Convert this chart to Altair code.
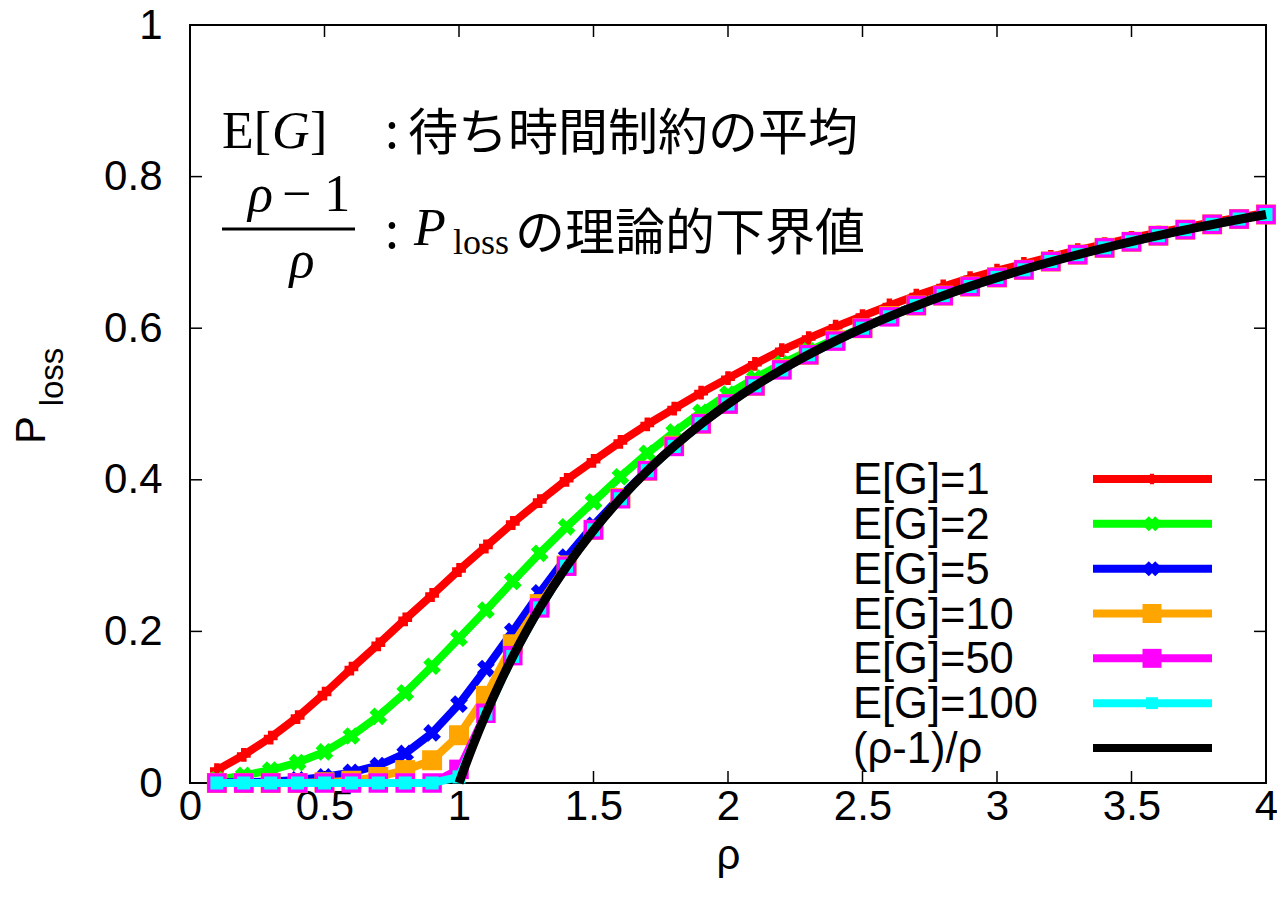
import altair as alt
import pandas as pd

# ---------------- data ----------------
rho = [0.1, 0.2, 0.3, 0.4, 0.5, 0.6, 0.7, 0.8, 0.9, 1.0,
       1.1, 1.2, 1.3, 1.4, 1.5, 1.6, 1.7, 1.8, 1.9, 2.0,
       2.1, 2.2, 2.3, 2.4, 2.5, 2.6, 2.7, 2.8, 2.9, 3.0,
       3.1, 3.2, 3.3, 3.4, 3.5, 3.6, 3.7, 3.8, 3.9, 4.0]

p_g1 = [0.017, 0.037, 0.060, 0.087, 0.118, 0.151, 0.183, 0.216, 0.248, 0.281,
        0.312, 0.343, 0.372, 0.400, 0.425, 0.450, 0.473, 0.494, 0.515, 0.534,
        0.553, 0.571, 0.587, 0.602, 0.616, 0.630, 0.643, 0.655, 0.666, 0.676,
        0.685, 0.694, 0.703, 0.711, 0.719, 0.726, 0.733, 0.740, 0.746, 0.752]

p_g2 = [0.004, 0.010, 0.017, 0.027, 0.041, 0.062, 0.088, 0.119, 0.154, 0.191,
        0.228, 0.266, 0.303, 0.338, 0.371, 0.404, 0.435, 0.463, 0.489, 0.513,
        0.534, 0.553, 0.570, 0.586, 0.601, 0.616, 0.631, 0.644, 0.656, 0.667,
        0.678, 0.688, 0.697, 0.706, 0.715, 0.723, 0.730, 0.737, 0.744, 0.750]

p_g5 = [0.001, 0.001, 0.002, 0.004, 0.008, 0.014, 0.023, 0.039, 0.066, 0.104,
        0.151, 0.200, 0.251, 0.298, 0.340, 0.378, 0.413, 0.445, 0.474, 0.501,
        0.524, 0.546, 0.566, 0.584, 0.601, 0.616, 0.631, 0.644, 0.656, 0.667,
        0.678, 0.688, 0.697, 0.706, 0.715, 0.723, 0.730, 0.737, 0.744, 0.750]

p_g10 = [0.0, 0.0, 0.0, 0.0, 0.001, 0.003, 0.008, 0.017, 0.030, 0.063,
         0.115, 0.183, 0.236, 0.287, 0.334, 0.376, 0.412, 0.445, 0.474, 0.500,
         0.524, 0.546, 0.565, 0.584, 0.600, 0.616, 0.630, 0.643, 0.655, 0.667,
         0.677, 0.688, 0.697, 0.706, 0.714, 0.722, 0.730, 0.737, 0.744, 0.750]

p_g50 = [0.0, 0.0, 0.0, 0.0, 0.0, 0.0, 0.0, 0.0, 0.0, 0.018,
         0.092, 0.168, 0.231, 0.286, 0.334, 0.375, 0.412, 0.444, 0.474, 0.500,
         0.524, 0.545, 0.565, 0.583, 0.600, 0.615, 0.630, 0.643, 0.655, 0.667,
         0.677, 0.688, 0.697, 0.706, 0.714, 0.722, 0.730, 0.737, 0.744, 0.750]

p_g100 = [0.0, 0.0, 0.0, 0.0, 0.0, 0.0, 0.0, 0.0, 0.0, 0.008,
          0.091, 0.167, 0.231, 0.286, 0.334, 0.375, 0.412, 0.444, 0.474, 0.500,
          0.524, 0.545, 0.565, 0.583, 0.600, 0.615, 0.630, 0.643, 0.655, 0.667,
          0.677, 0.688, 0.697, 0.706, 0.714, 0.722, 0.730, 0.737, 0.744, 0.750]

rho_theory = [1.0, 1.02, 1.05, 1.1, 1.15, 1.2, 1.25, 1.3, 1.4, 1.5, 1.6, 1.7, 1.8,
              1.9, 2.0, 2.2, 2.4, 2.6, 2.8, 3.0, 3.25, 3.5, 3.75, 4.0]
p_theory = [0.0, 0.0196, 0.0476, 0.0909, 0.1304, 0.1667, 0.2, 0.2308, 0.2857, 0.3333,
            0.375, 0.4118, 0.4444, 0.4737, 0.5, 0.5455, 0.5833, 0.6154, 0.6429, 0.6667,
            0.6923, 0.7143, 0.7333, 0.75]

series_names = ["E[G]=1", "E[G]=2", "E[G]=5", "E[G]=10", "E[G]=50", "E[G]=100"]
series_values = [p_g1, p_g2, p_g5, p_g10, p_g50, p_g100]
series_colors = ["#ff0000", "#00ff00", "#0000ff", "#ffa500", "#ff00ff", "#00ffff"]
theory_label = "(ρ-1)/ρ"

x_ticks = [0, 0.5, 1, 1.5, 2, 2.5, 3, 3.5, 4]
y_ticks = [0, 0.2, 0.4, 0.6, 0.8, 1]

x_title = "ρ"
y_title_main = "P"
y_title_sub = "loss"

note1_a = "E["
note1_b = "G"
note1_c = "]"
note1_jp = "待ち時間制約の平均"
note_colon = ":"
note2_num_rho = "ρ"
note2_num_rest = "− 1"
note2_den = "ρ"
note2_p = "P"
note2_sub = "loss"
note2_jp = "の理論的下界値"

# ---------------- styling ----------------
W, H = 1076, 758
FONT = "Liberation Sans"
SERIF = "Liberation Serif"
CJK = "Noto Sans CJK JP"
FS = 42

xs = alt.Scale(domain=[0, 4], nice=False, zero=False)
ys = alt.Scale(domain=[0, 1], nice=False, zero=False)

x_axis = alt.Axis(values=x_ticks, ticks=False, tickSize=0, domain=False, grid=False,
                  labelFlush=False, labelFontSize=FS, labelFont=FONT, labelColor="black",
                  labelPadding=3, labelExpr="format(datum.value, '~g')",
                  title=x_title, titleFont=FONT, titleFontSize=FS, titleFontWeight="normal",
                  titleColor="black", titlePadding=8)
y_axis = alt.Axis(values=y_ticks, ticks=False, tickSize=0, domain=False, grid=False,
                  labelFlush=False, labelFontSize=FS, labelFont=FONT, labelColor="black",
                  labelPadding=28, labelExpr="format(datum.value, '~g')", title=None)


def X(field):
    return alt.X(field, type="quantitative", scale=xs, axis=x_axis)


def Y(field):
    return alt.Y(field, type="quantitative", scale=ys, axis=y_axis)


marker_specs = {
    "E[G]=1": dict(shape="cross", size=190, angle=0),
    "E[G]=2": dict(shape="cross", size=320, angle=45),
    "E[G]=5": dict(shape="cross", size=320, angle=45),
    "E[G]=10": dict(shape="square", size=400, angle=0),
    "E[G]=50": dict(shape="square", size=380, angle=0),
    "E[G]=100": dict(shape="square", size=170, angle=0),
}

main_layers = []

# inward ticks
xt = pd.DataFrame({"t": x_ticks})
yt = pd.DataFrame({"t": y_ticks})
main_layers.append(alt.Chart(xt).mark_rule(color="black", strokeWidth=1.5).encode(
    x=X("t"), y=alt.value(H), y2=alt.value(H - 12)))
main_layers.append(alt.Chart(xt).mark_rule(color="black", strokeWidth=1.5).encode(
    x=X("t"), y=alt.value(0), y2=alt.value(12)))
main_layers.append(alt.Chart(yt).mark_rule(color="black", strokeWidth=1.5).encode(
    y=Y("t"), x=alt.value(0), x2=alt.value(12)))
main_layers.append(alt.Chart(yt).mark_rule(color="black", strokeWidth=1.5).encode(
    y=Y("t"), x=alt.value(W), x2=alt.value(W - 12)))

for name, vals, col in zip(series_names, series_values, series_colors):
    df = pd.DataFrame({"rho": rho, "P": vals})
    spec = marker_specs[name]
    main_layers.append(alt.Chart(df).mark_line(color=col, strokeWidth=8).encode(
        x=X("rho"), y=Y("P")))
    main_layers.append(alt.Chart(df).mark_point(
        shape=spec["shape"], size=spec["size"], angle=spec["angle"], filled=True,
        color=col, opacity=1).encode(x=X("rho"), y=Y("P")))

th = pd.DataFrame({"rho": rho_theory, "P": p_theory})
main_layers.append(alt.Chart(th).mark_line(color="black", strokeWidth=9,
                                           interpolate="monotone").encode(
    x=X("rho"), y=Y("P")))

main = alt.layer(*main_layers)

# ---------------- legend ----------------
leg_labels = series_names + [theory_label]
leg_colors = series_colors + ["#000000"]
leg_df = pd.DataFrame({"label": leg_labels})
ly = alt.Y("label:N", scale=alt.Scale(type="point", domain=leg_labels, range=[454, 723],
                                      padding=0), axis=None)
lc = alt.Color("label:N", scale=alt.Scale(domain=leg_labels, range=leg_colors), legend=None)

leg_layers = [
    alt.Chart(leg_df).mark_text(align="left", baseline="alphabetic", dy=15, font=FONT,
                                fontSize=43.5, color="black").encode(
        x=alt.value(663), y=ly, text="label:N"),
    alt.Chart(leg_df).mark_rule(strokeWidth=8).encode(
        x=alt.value(903), x2=alt.value(1022), y=ly, color=lc),
]
leg_marker_sizes = {"E[G]=1": 110, "E[G]=2": 230, "E[G]=5": 230,
                    "E[G]=10": 360, "E[G]=50": 360, "E[G]=100": 140}
for name, col in zip(series_names, series_colors):
    spec = marker_specs[name]
    leg_layers.append(alt.Chart(leg_df).transform_filter(
        alt.datum.label == name).mark_point(
        shape=spec["shape"], size=leg_marker_sizes[name], angle=spec["angle"], filled=True,
        color=col, opacity=1).encode(x=alt.value(962), y=ly))
legend = alt.layer(*leg_layers)

# ---------------- annotations ----------------
one = pd.DataFrame({"a": [0]})


def txt(s, x, y, font, size, italic=False, align="left", angle=0, baseline="alphabetic"):
    kw = dict(text=s, font=font, fontSize=size, align=align, baseline=baseline,
              color="black")
    if italic:
        kw["fontStyle"] = "italic"
    if angle:
        kw["angle"] = angle
    return alt.Chart(one).mark_text(**kw).encode(x=alt.value(x), y=alt.value(y))


ann_layers = [
    # y axis title P_loss
    txt(y_title_main, -158, 405, FONT, FS, align="center", angle=270, baseline="middle"),
    txt(y_title_sub, -137, 352, FONT, 33, align="center", angle=270, baseline="middle"),
    # line 1
    txt(note1_a, 32, 123, SERIF, 52),
    txt(note1_b, 82, 123, SERIF, 52, italic=True),
    txt(note1_c, 120, 123, SERIF, 52),
    txt(note_colon, 202, 123, CJK, 50, align="center"),
    txt(note1_jp, 218, 125, CJK, 50),
    # line 2
    txt(note2_num_rho, 58, 186, SERIF, 52, italic=True),
    txt(note2_num_rest, 92, 186, SERIF, 52),
    txt(note2_den, 112, 252, SERIF, 52, italic=True, align="center"),
    alt.Chart(one).mark_rule(color="black", strokeWidth=3).encode(
        x=alt.value(32), x2=alt.value(165), y=alt.value(204)),
    txt(note_colon, 202, 223, CJK, 50, align="center"),
    txt(note2_p, 224, 220, SERIF, 52, italic=True),
    txt(note2_sub, 263, 229, SERIF, 36),
    txt(note2_jp, 325, 225, CJK, 50),
]
ann = alt.layer(*ann_layers)

chart = alt.layer(main, legend, ann).resolve_scale(y="independent").properties(
    width=W, height=H,
    autosize=alt.AutoSizeParams(type="none"),
    padding={"left": 182, "top": 17, "right": 11, "bottom": 123},
    background="white",
).configure_view(stroke="black", strokeWidth=2)

chart.save("out.html", embed_options={"renderer": "svg", "actions": False})
